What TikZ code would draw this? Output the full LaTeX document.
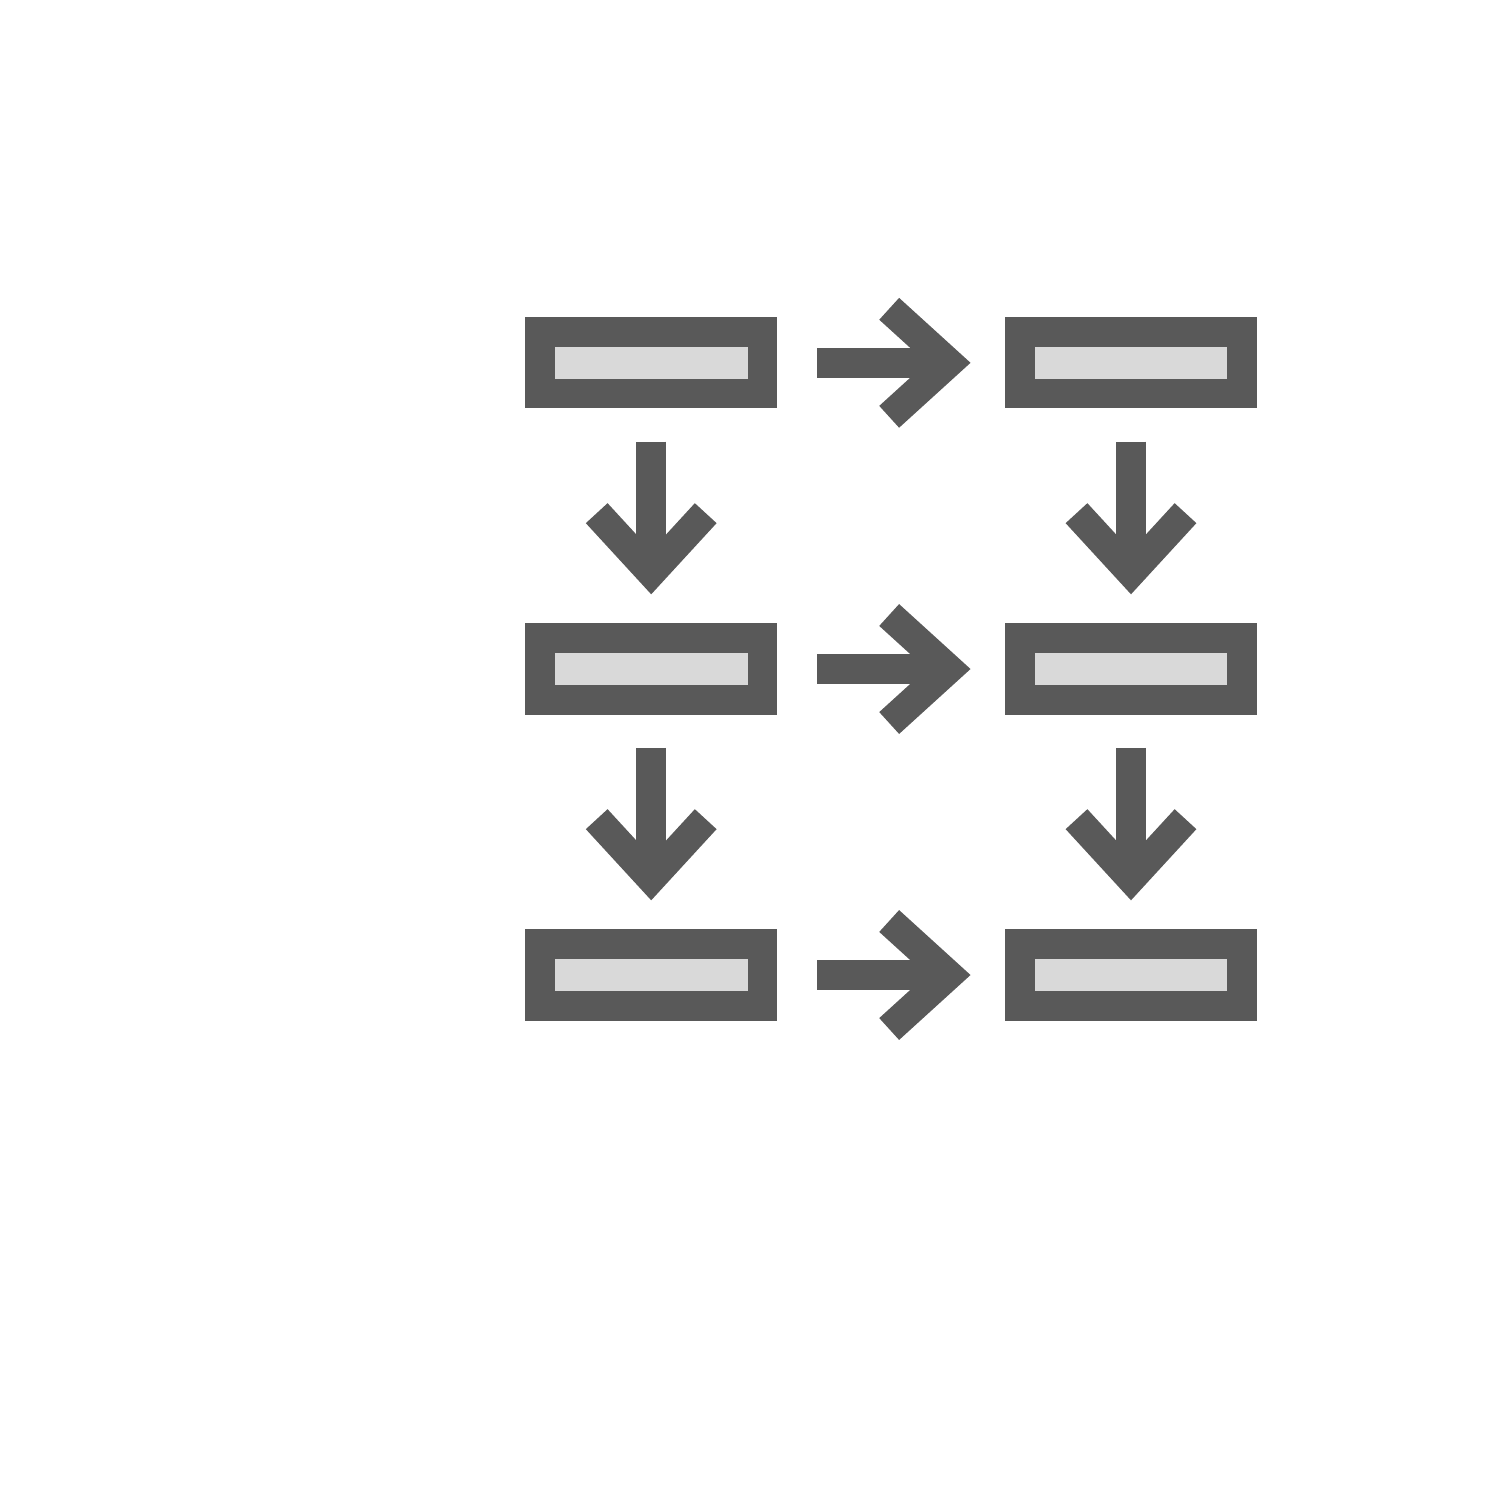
\documentclass[tikz,border=0pt]{standalone}
\usetikzlibrary{calc}
\definecolor{dk}{RGB}{89,89,89}
\definecolor{lt}{RGB}{217,217,217}
\begin{document}
\begin{tikzpicture}[x=0.01cm,y=-0.01cm,
  box/.style={draw=dk,fill=lt,line width=0.295cm,minimum width=2.22cm,minimum height=0.615cm,inner sep=0pt,outer sep=0.1475cm},
  conn/.style={draw=dk,line width=0.295cm,line cap=butt,line join=miter}]
\fill[white] (0,0) rectangle (1500,1500);
\useasboundingbox (0,0) rectangle (1500,1500);
\node[box] (a1) at (651.2,362.8) {};
\node[box] (b1) at (1131,362.8) {};
\node[box] (a2) at (651.2,669) {};
\node[box] (b2) at (1131,669) {};
\node[box] (a3) at (651.2,975) {};
\node[box] (b3) at (1131,975) {};
% horizontal arrows
\foreach \i in {1,2,3}{
  \draw[conn] ($(a\i.east)+(40,0)$) -- ($(b\i.west)+(-56.6,0)$) coordinate (h\i);
  \draw[conn] ($(h\i)+(-59.4,-54)$) -- (h\i) -- ($(h\i)+(-59.4,54)$);
}
% vertical arrows
\foreach \c in {a,b}{
  \foreach \i/\j in {1/2,2/3}{
    \draw[conn] ($(\c\i.south)+(0,33.4)$) -- ($(\c\j.north)+(0,-51)$) coordinate (v\c\i);
    \draw[conn] ($(v\c\i)+(-54.5,-59.3)$) -- (v\c\i) -- ($(v\c\i)+(54.5,-59.3)$);
  }
}
\end{tikzpicture}
\end{document}
